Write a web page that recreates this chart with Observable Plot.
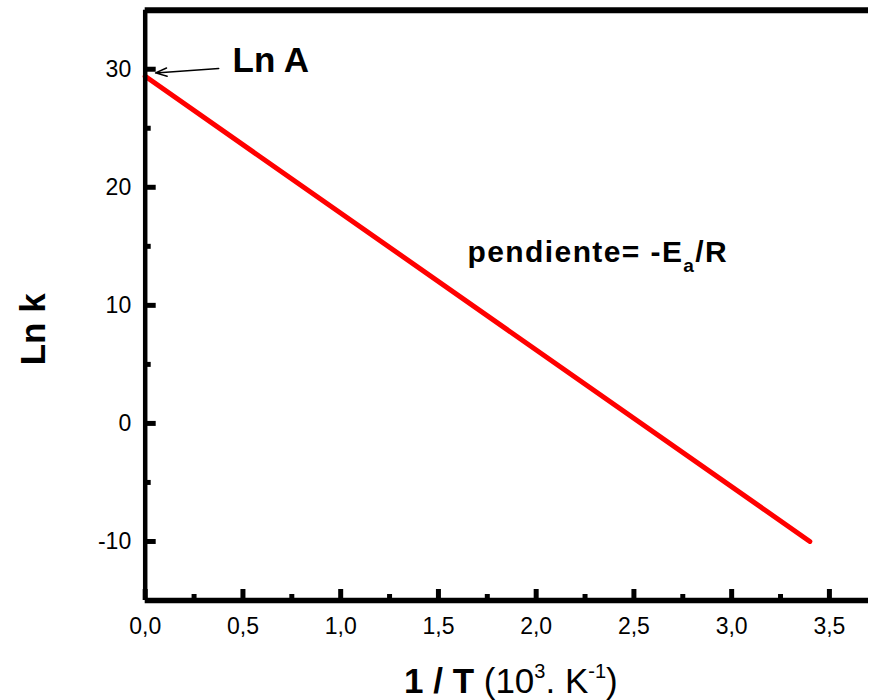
<!DOCTYPE html>
<html><head><meta charset="utf-8">
<script src="https://cdn.jsdelivr.net/npm/d3@7"></script>
<script src="https://cdn.jsdelivr.net/npm/@observablehq/plot@0.6"></script>
<style>html,body{margin:0;padding:0;background:#fff;} #chart svg{display:block;}</style>
</head><body><div id="chart"></div>
<script>
// Data
const lineX = [0, 3.4];
const lineY = [29.4, -10];
const xMajorTicks = [0, 0.5, 1, 1.5, 2, 2.5, 3, 3.5];
const xMinorTicks = [0.25, 0.75, 1.25, 1.75, 2.25, 2.75, 3.25];
const yMajorTicks = [-10, 0, 10, 20, 30];
const yMinorTicks = [-5, 5, 15, 25];
const xTitle = "1 / T (103. K-1)";
const yTitle = "Ln k";
const interceptLabel = "Ln A";
const slopeLabel = "pendiente= -Ea/R";
const interceptPos = {x: 0.447, y: 30.75};
const slopePos = {x: 1.649, y: 14.48};
const arrowPos = {x1: 0.376, y1: 30.06, x2: 0.053, y2: 29.69};

const W = 869, H = 700, mL = 144.7, mR = 1, mT = 9.7, mB = 100;
const frameW = W - mL - mR, frameH = H - mT - mB;

const fmtX = d => d3.format(".1f")(d).replace(".", ",");
const line = lineX.map((x, i) => ({x, y: lineY[i]}));

const chart = Plot.plot({
  width: W, height: H,
  marginLeft: mL, marginRight: mR, marginTop: mT, marginBottom: mB,
  x: {domain: [0, 3.7]},
  y: {domain: [-15, 35]},
  style: {fontFamily: "'Liberation Sans', Arial, sans-serif", background: "#fff", color: "#000", overflow: "visible"},
  marks: [
    Plot.line(line, {x: "x", y: "y", stroke: "#ff0000", strokeWidth: 5}),
    // inward ticks
    Plot.tickX(xMinorTicks, {x: d => d, insetTop: frameH - 6, strokeWidth: 5}),
    Plot.tickX(xMajorTicks, {x: d => d, insetTop: frameH - 11, strokeWidth: 5}),
    Plot.tickY(yMinorTicks, {y: d => d, insetRight: frameW - 6, strokeWidth: 5}),
    Plot.tickY(yMajorTicks, {y: d => d, insetRight: frameW - 11, strokeWidth: 5}),
    // tick labels
    Plot.axisX(xMajorTicks, {tickSize: 0, tickPadding: 17, tickFormat: fmtX, fontSize: 23, label: null}),
    Plot.axisY(yMajorTicks, {tickSize: 0, tickPadding: 14, tickFormat: d => String(d), fontSize: 23, label: null}),
    // frame
    Plot.ruleX([0], {strokeWidth: 4.5}),
    Plot.ruleY([-15], {strokeWidth: 5.5}),
    Plot.ruleY([35], {strokeWidth: 6}),
    // annotations
    Plot.arrow([arrowPos], {x1: "x1", y1: "y1", x2: "x2", y2: "y2", strokeWidth: 1.5, headLength: 12, headAngle: 40}),
    Plot.text([{...interceptPos, label: interceptLabel}], {x: "x", y: "y", text: "label", textAnchor: "start", lineAnchor: "middle", fontSize: 35, fontWeight: "bold"}),
    Plot.text([{...slopePos, label: slopeLabel}], {x: "x", y: "y", text: "label", textAnchor: "start", lineAnchor: "middle", fontSize: 30, fontWeight: "bold"}),
    Plot.text([xTitle], {frameAnchor: "bottom", textAnchor: "middle", lineAnchor: "middle", dy: 81, dx: 4, fontSize: 35}),
    Plot.text([yTitle], {frameAnchor: "left", textAnchor: "middle", lineAnchor: "middle", dx: -111, dy: 24, rotate: -90, fontSize: 35, fontWeight: "bold"})
  ]
});

function richify(svg, plain, parts, extra) {
  d3.select(svg).selectAll("text").filter(function() { return this.textContent === plain; }).each(function() {
    const t = d3.select(this);
    t.text(null);
    if (extra) for (const k in extra) t.attr(k, extra[k]);
    let cur = 0;
    for (const p of parts) {
      const target = p.shift || 0;
      const ts = t.append("tspan").text(p.t);
      if (p.weight) ts.attr("font-weight", p.weight);
      if (p.size) ts.attr("font-size", p.size);
      if (target !== cur) ts.attr("dy", target - cur);
      cur = target;
    }
  });
}
richify(chart, xTitle, [
  {t: "1 / T", weight: "bold"},
  {t: " (10", weight: "normal"},
  {t: "3", weight: "normal", size: 20, shift: -15},
  {t: ". K", weight: "normal"},
  {t: "-1", weight: "normal", size: 20, shift: -15},
  {t: ")", weight: "normal"}
]);
richify(chart, slopeLabel, [
  {t: "pendiente= -E"},
  {t: "a", size: 19, shift: 10},
  {t: "/R"}
], {"letter-spacing": 1.4});
document.getElementById("chart").appendChild(chart);
</script>
</body></html>
